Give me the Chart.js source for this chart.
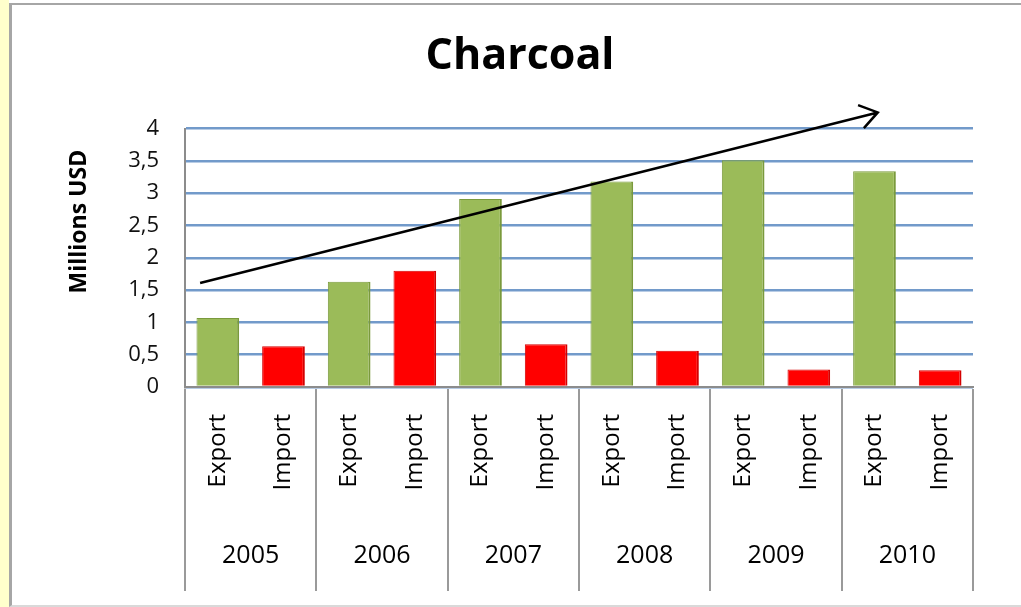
<!DOCTYPE html>
<html>
<head>
<meta charset="utf-8">
<script src="https://cdn.jsdelivr.net/npm/chart.js@4.4.1/dist/chart.umd.min.js"></script>
<style>
  body { margin: 0; background: #fff; }
  .strip { position: absolute; left: 0; top: 0; width: 9px; height: 607px; background: #ffffcc; }
  .frame { position: absolute; left: 9px; top: 3px; width: 1020px; height: 600px;
           border-left: 3px solid #a6a6a6; border-top: 2px solid #a6a6a6; border-bottom: 2px solid #d9d9d9; }
  canvas { position: absolute; left: 0; top: 0; }
</style>
</head>
<body>
<div class="strip"></div>
<div class="frame"></div>
<canvas id="barChart" width="1021" height="607"></canvas>
<script>
var years = ['2005', '2006', '2007', '2008', '2009', '2010'];
var flows = ['Export', 'Import'];
var exportValues = [1.07, 1.63, 2.91, 3.18, 3.51, 3.34];
var importValues = [0.63, 1.80, 0.66, 0.56, 0.27, 0.26];
// trend arrow, in data units (category index, millions USD)
var trendArrow = { from: [-0.27, 1.61], to: [10.05, 4.25] };

var categories = [];
years.forEach(function () { categories.push(flows[0], flows[1]); });
var exportData = categories.map(function (c, i) { return i % 2 === 0 ? exportValues[i / 2] : null; });
var importData = categories.map(function (c, i) { return i % 2 === 1 ? importValues[(i - 1) / 2] : null; });

var FONT = "'Open Sans', sans-serif";

// separators between year groups + the trend arrow + rotated axis title
var extras = {
    id: 'extras',
    afterDatasetsDraw: function (chart) {
        var ctx = chart.ctx;
        var x = chart.scales.x, y = chart.scales.y;
        ctx.save();
        // trend arrow
        var x1 = x.getPixelForValue(trendArrow.from[0]), y1 = y.getPixelForValue(trendArrow.from[1]);
        var x2 = x.getPixelForValue(trendArrow.to[0]), y2 = y.getPixelForValue(trendArrow.to[1]);
        ctx.strokeStyle = '#000';
        ctx.lineWidth = 2.5;
        ctx.beginPath();
        ctx.moveTo(x1, y1);
        ctx.lineTo(x2, y2);
        var a = Math.atan2(y2 - y1, x2 - x1);
        ctx.moveTo(x2 - 21 * Math.cos(a - 0.6), y2 - 21 * Math.sin(a - 0.6));
        ctx.lineTo(x2, y2);
        ctx.lineTo(x2 - 21 * Math.cos(a + 0.6), y2 - 21 * Math.sin(a + 0.6));
        ctx.stroke();
        ctx.restore();
    },
    afterDraw: function (chart) {
        var ctx = chart.ctx;
        var x = chart.scales.x, yr = chart.scales.years, area = chart.chartArea;
        ctx.save();
        ctx.strokeStyle = '#9a9a9a';
        ctx.lineWidth = 2;
        for (var g = 0; g <= years.length; g++) {
            var px = Math.round(x.getPixelForValue(g * 2 - 0.5));
            ctx.beginPath();
            ctx.moveTo(px, area.bottom + 2);
            ctx.lineTo(px, yr.bottom + 18);
            ctx.stroke();
        }
        // y axis title
        ctx.translate(79, area.top + (area.bottom - area.top) * 0.36);
        ctx.rotate(-Math.PI / 2);
        ctx.fillStyle = '#000';
        ctx.font = 'bold 23px ' + FONT;
        ctx.textAlign = 'center';
        ctx.textBaseline = 'middle';
        ctx.fillText('Millions USD', 0, 0);
        ctx.restore();
    }
};

var ctx = document.getElementById('barChart').getContext('2d');
var barChart = new Chart(ctx, {
    type: 'bar',
    data: {
        labels: categories,
        datasets: [{
            label: 'Export',
            data: exportData,
            backgroundColor: '#9bbb59',
            borderColor: '#7a9a3c',
            borderWidth: { top: 1, left: 1, right: 2, bottom: 0 },
            grouped: false,
            barPercentage: 0.65,
            categoryPercentage: 1
        }, {
            label: 'Import',
            data: importData,
            backgroundColor: '#ff0000',
            borderColor: '#d40000',
            borderWidth: { top: 1, left: 1, right: 2, bottom: 0 },
            grouped: false,
            barPercentage: 0.65,
            categoryPercentage: 1
        }]
    },
    options: {
        responsive: false,
        animation: false,
        devicePixelRatio: 1,
        layout: { padding: { top: 0, right: 48, bottom: 34, left: 67 } },
        plugins: {
            legend: { display: false },
            tooltip: { enabled: false },
            title: {
                display: true,
                text: 'Charcoal',
                color: '#000',
                font: { family: FONT, size: 43, weight: 'bold' },
                padding: { top: 31, bottom: 46 }
            }
        },
        scales: {
            y: {
                min: 0,
                max: 4,
                afterFit: function (scale) { scale.width = 118; },
                ticks: {
                    stepSize: 0.5,
                    color: '#111',
                    font: { family: FONT, size: 22 },
                    padding: 26,
                    callback: function (v) { return String(v).replace('.', ','); }
                },
                grid: { color: 'rgba(79,129,189,0.8)', lineWidth: 2.5, drawTicks: false },
                border: { display: true, color: '#8c8c8c', width: 2 }
            },
            x: {
                afterFit: function (scale) { scale.height = 106; },
                ticks: {
                    autoSkip: false,
                    minRotation: 90,
                    maxRotation: 90,
                    color: '#000',
                    font: { family: FONT, size: 24 },
                    padding: 27
                },
                grid: { display: false, drawTicks: false },
                border: { display: true, color: '#8c8c8c', width: 2 }
            },
            years: {
                type: 'category',
                labels: years,
                position: 'bottom',
                afterFit: function (scale) { scale.height = 80; },
                ticks: {
                    color: '#000',
                    font: { family: FONT, size: 25 },
                    padding: 48
                },
                grid: { display: false, drawTicks: false },
                border: { display: false }
            }
        }
    },
    plugins: [extras]
});
</script>
</body>
</html>
